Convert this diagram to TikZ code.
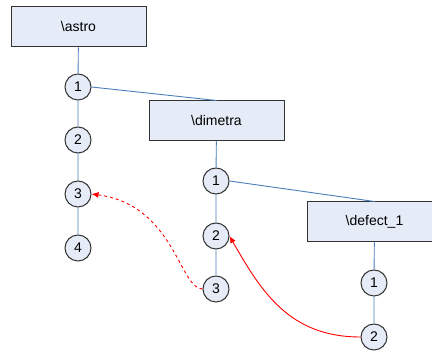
\documentclass[tikz,border=0pt]{standalone}
\usepackage{fontspec}
\setmainfont{Liberation Sans}
\usetikzlibrary{arrows.meta}
\definecolor{cfill}{HTML}{E6ECF7}
\definecolor{cedge}{HTML}{333333}
\definecolor{cblue}{HTML}{4A7EBB}
\definecolor{cred}{HTML}{FF0000}
\tikzset{
  every picture/.style={font=\fontsize{14}{16}\selectfont, line width=1pt},
  func/.style={draw=cedge, fill=cfill, minimum width=135pt, minimum height=40pt, inner sep=0pt},
  call/.style={circle, draw=cedge, fill=cfill, minimum size=26pt, inner sep=0pt},
  link/.style={draw=cblue, line width=0.9pt},
  jump/.style={-{Latex[length=7pt, width=6pt]}, draw=cred, line width=0.9pt},
}

\begin{document}
\begin{tikzpicture}[x=1pt, y=-1pt]
  \useasboundingbox (0,0) rectangle (432,352);
  % functions
  \node[func] (astro) at (78.5,27) {\textbackslash astro};
  \node[func] (dimetra) at (216.5,121) {\textbackslash dimetra};
  \node[func] (defect) at (374.5,222) {\textbackslash defect\_1};
  % calls below each function
  \foreach \i/\y in {1/87, 2/140, 3/194, 4/248}
    \node[call] (a\i) at (78,\y) {\i};
  \foreach \i/\y in {1/181, 2/236, 3/289}
    \node[call] (d\i) at (216,\y) {\i};
  \foreach \i/\y in {1/283, 2/337}
    \node[call] (f\i) at (374,\y) {\i};
  \draw[link] (astro) -- (a1) -- (a2) -- (a3) -- (a4);
  \draw[link] (dimetra) -- (d1) -- (d2) -- (d3);
  \draw[link] (defect) -- (f1) -- (f2);
  \draw[link] (a1.east) -- (dimetra.north);
  \draw[link] (d1.east) -- (defect.north);
  % returns
  \draw[jump, dashed] (d3.west) .. controls +(-23,0) and +(83,11) .. (a3.east);
  \draw[jump] (f2.west) .. controls +(-71,0) and +(32,56) .. (d2.east);
\end{tikzpicture}
\end{document}
